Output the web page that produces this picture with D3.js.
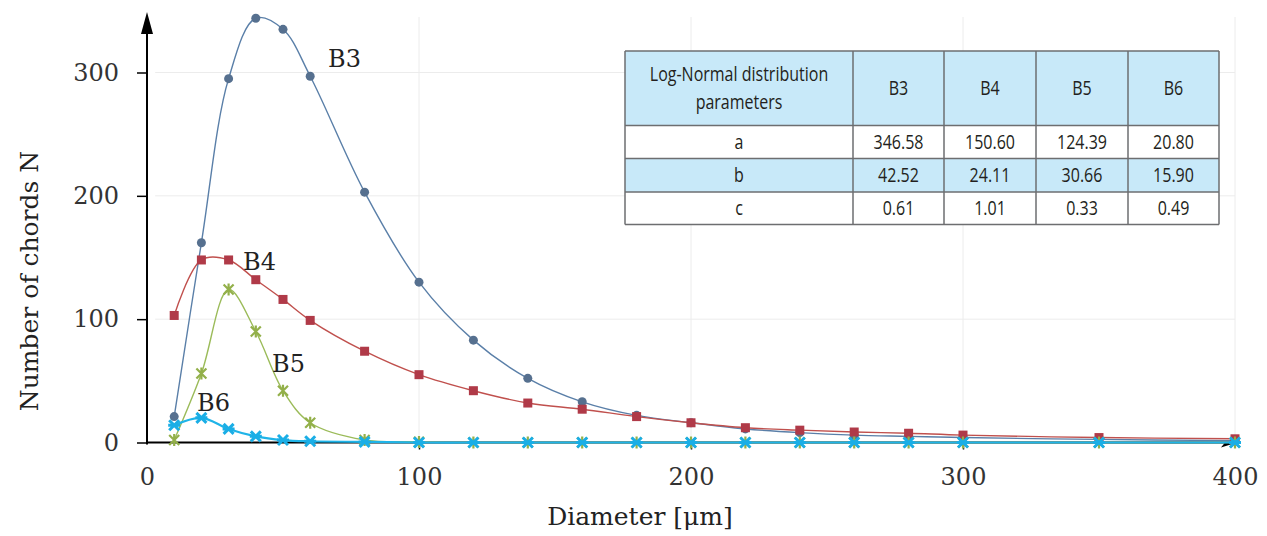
<!DOCTYPE html>
<html><head><meta charset="utf-8">
<script src="https://cdn.jsdelivr.net/npm/d3@7"></script>
<style>
html,body{margin:0;padding:0;background:#fff;}
svg{display:block;}
</style></head>
<body><svg id="chart" width="1267" height="536"></svg>
<script>
// ---- data ----
const diameters = [10,20,30,40,50,60,80,100,120,140,160,180,200,220,240,260,280,300,350,400];
const seriesNames = ["B3","B4","B5","B6"];
const valuesB3 = [21,162,295,344,335,297,203,130,83,52,33,22,16,11,8,6,5,4,2.5,1.5];
const valuesB4 = [103,148,148,132,116,99,74,55,42,32,27,21,16,12,10,8.5,7.5,6,4,3];
const valuesB5 = [2,56,124,90,42,16,2,0.5,0,0,0,0,0,0,0,0,0,0,0,0];
const valuesB6 = [14,20,11,5,2,1,0.5,0,0,0,0,0,0,0,0,0,0,0,0,0];
const xTicks = [0,100,200,300,400];
const yTicks = [0,100,200,300];
const xTitle = "Diameter [\u03bcm]";
const yTitle = "Number of chords N";
const tableHeader = ["Log-Normal distribution|parameters","B3","B4","B5","B6"];
const paramNames = ["a","b","c"];
const paramB3 = ["346.58","42.52","0.61"];
const paramB4 = ["150.60","24.11","1.01"];
const paramB5 = ["124.39","30.66","0.33"];
const paramB6 = ["20.80","15.90","0.49"];

// ---- layout ----
const svg = d3.select("#chart");
const x = d3.scaleLinear().domain([0,400]).range([147,1235]);
const y = d3.scaleLinear().domain([0,300]).range([442.5,72.5]);
const serif = "'DejaVu Serif', serif";

// gridlines
const grid = svg.append("g").attr("stroke","#ececec").attr("stroke-width",1);
yTicks.filter(d=>d>0).forEach(t=>{
  grid.append("line").attr("x1",x(3)).attr("x2",x(400)).attr("y1",y(t)).attr("y2",y(t));
});
xTicks.filter(d=>d>0).forEach(t=>{
  grid.append("line").attr("x1",x(t)).attr("x2",x(t)).attr("y1",y(345)).attr("y2",y(0));
});

// axes
const axisG = svg.append("g");
const xAxis = axisG.append("g").attr("transform",`translate(0,${y(0)})`)
  .call(d3.axisBottom(x).tickValues(xTicks).tickSize(7).tickPadding(18).tickFormat(d3.format("d")));
xAxis.select(".domain").remove();
const yAxis = axisG.append("g").attr("transform",`translate(${x(0)},0)`)
  .call(d3.axisLeft(y).tickValues(yTicks).tickSize(10).tickPadding(18).tickFormat(d3.format("d")));
yAxis.select(".domain").remove();
axisG.selectAll(".tick line").attr("stroke","#000").attr("stroke-width",1.5);
axisG.selectAll(".tick text").attr("font-family",serif).attr("font-size",24).attr("fill","#333");
xAxis.selectAll(".tick line").attr("y1",0);
xAxis.selectAll(".tick").filter(d=>d===0||d===400).select("line").remove();

// axis lines
axisG.append("line").attr("x1",x(0)).attr("x2",x(0)).attr("y1",y(0)+2).attr("y2",30)
  .attr("stroke","#000").attr("stroke-width",2);
axisG.append("path").attr("d",`M${x(0)},12 L${x(0)-6},34 L${x(0)+6},34 Z`).attr("fill","#000");
axisG.append("line").attr("x1",x(0)-1).attr("x2",x(400)).attr("y1",y(0)).attr("y2",y(0))
  .attr("stroke","#000").attr("stroke-width",2);

// titles
svg.append("text").attr("x",640).attr("y",525).attr("text-anchor","middle")
  .attr("font-family",serif).attr("font-size",25).attr("fill","#222").text(xTitle);
svg.append("text").attr("transform","translate(38,281) rotate(-90)").attr("text-anchor","middle")
  .attr("font-family",serif).attr("font-size",25).attr("fill","#222").text(yTitle);

// series
const colors = {B3:"#5a7fa8",B4:"#c0504d",B5:"#9bbb59",B6:"#1fb4e8"};
const markerColors = {B3:"#56708f",B4:"#b03a48",B5:"#93b04a",B6:"#1aaee6"};
const seriesVals = {B3:valuesB3,B4:valuesB4,B5:valuesB5,B6:valuesB6};
const line = d3.line().x(d=>x(d[0])).y(d=>y(d[1])).curve(d3.curveCatmullRom.alpha(0.5));
const marks = svg.append("g");
seriesNames.forEach(name=>{
  const pts = diameters.map((dd,i)=>[dd,seriesVals[name][i]]);
  marks.append("path").datum(pts).attr("d",line).attr("fill","none")
    .attr("stroke",colors[name]).attr("stroke-width",name==="B6"?2.2:1.4);
  const g = marks.append("g");
  pts.forEach(p=>{
    const cx = x(p[0]), cy = y(p[1]);
    const c = markerColors[name];
    if(name==="B3"){
      g.append("circle").attr("cx",cx).attr("cy",cy).attr("r",4.5).attr("fill",c);
    } else if(name==="B4"){
      g.append("rect").attr("x",cx-4.5).attr("y",cy-4.5).attr("width",9).attr("height",9).attr("fill",c);
    } else if(name==="B5"){
      g.append("path").attr("d",`M${cx-5},${cy-5}L${cx+5},${cy+5}M${cx-5},${cy+5}L${cx+5},${cy-5}M${cx},${cy-6}L${cx},${cy+6}`)
        .attr("stroke",c).attr("stroke-width",2.2);
    } else {
      g.append("path").attr("d",`M${cx-5},${cy-5}L${cx+5},${cy+5}M${cx-5},${cy+5}L${cx+5},${cy-5}M${cx-6},${cy}L${cx+6},${cy}`)
        .attr("stroke",c).attr("stroke-width",3);
    }
  });
});

// small arrow at end of x axis
axisG.append("path").attr("d",`M${x(400)+2},${y(0)} L${x(400)-14},${y(0)+5} L${x(400)-10},${y(0)} Z`).attr("fill","#000");

// series labels
const labelPos = {B3:[328,67],B4:[243,270],B5:[272,372],B6:[197,411]};
seriesNames.forEach(name=>{
  svg.append("text").attr("x",labelPos[name][0]).attr("y",labelPos[name][1])
    .attr("font-family",serif).attr("font-size",24).attr("fill","#222").text(name);
});

// table
const colX = [625,853,944,1036,1128,1219];
const rowY = [51,125.5,158.5,192,224.5];
const tfont = "'Open Sans',sans-serif";
const tScale = 0.8;
const tbl = svg.append("g");
const rows = [tableHeader].concat(paramNames.map((p,i)=>[p,paramB3[i],paramB4[i],paramB5[i],paramB6[i]]));
const fills = ["#c8e9f9","#ffffff","#c8e9f9","#ffffff"];
rows.forEach((r,ri)=>{
  tbl.append("rect").attr("x",colX[0]).attr("y",rowY[ri]).attr("width",colX[5]-colX[0])
    .attr("height",rowY[ri+1]-rowY[ri]).attr("fill",fills[ri]);
  r.forEach((txt,ci)=>{
    const cx = (colX[ci]+colX[ci+1])/2, cy=(rowY[ri]+rowY[ri+1])/2;
    const lines = txt.split("|");
    const t = tbl.append("text").attr("text-anchor","middle")
      .attr("transform",`translate(${cx},0) scale(${tScale},1)`)
      .attr("font-family",tfont).attr("font-size",20).attr("fill","#231f20");
    lines.forEach((ln,li)=>{
      t.append("tspan").attr("x",0).attr("y",cy+7+(li-(lines.length-1)/2)*28).text(ln);
    });
  });
});
const bord = tbl.append("g").attr("stroke","#6d6e70").attr("stroke-width",1.5);
rowY.forEach(yy=>bord.append("line").attr("x1",colX[0]).attr("x2",colX[5]).attr("y1",yy).attr("y2",yy));
colX.forEach(xx=>bord.append("line").attr("x1",xx).attr("x2",xx).attr("y1",rowY[0]).attr("y2",rowY[4]));
</script></body></html>
